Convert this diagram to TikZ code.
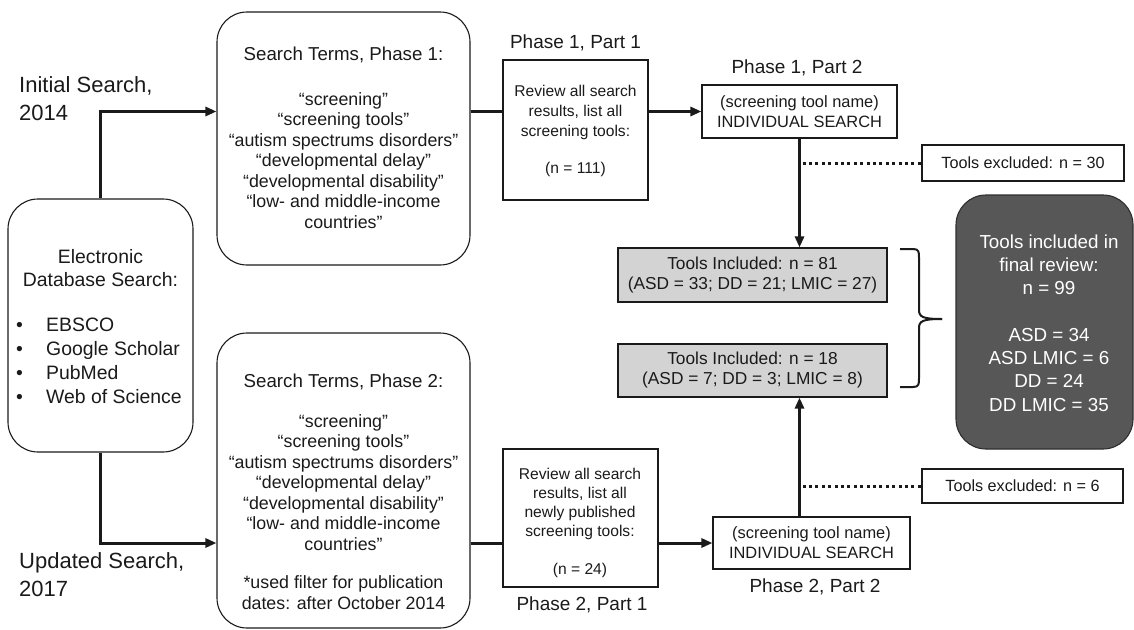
\documentclass[tikz,border=0pt]{standalone}
\usepackage{fontspec}
\setmainfont{Liberation Sans}
\usetikzlibrary{arrows.meta}
\newcommand{\fsz}[2]{\fontsize{#1}{#2}\selectfont}
\definecolor{incfill}{HTML}{D3D3D3}
\definecolor{darkfill}{HTML}{575757}
\definecolor{darkline}{HTML}{2E2E2E}
\definecolor{ink}{HTML}{1A1A1A}
\begin{document}
\begin{tikzpicture}[x=1pt,y=-1pt,
  every node/.style={text=ink},
  boxbase/.style={draw=ink, line width=1.1pt, inner sep=0pt},
  rbox/.style={boxbase, rounded corners=30pt},
  sbox/.style={boxbase},
  incbox/.style={boxbase, fill=incfill},
  darkbox/.style={draw=darkline, line width=1.1pt, fill=darkfill, rounded corners=30pt, inner sep=0pt},
  txt/.style={align=center, inner sep=0pt},
  conn/.style={draw=ink, line width=3pt, -{Triangle[length=11pt,width=9pt]}},
  plainconn/.style={draw=ink, line width=3pt},
  dotconn/.style={draw=ink, line width=3pt, dash pattern=on 3pt off 3.4pt},
  bracestyle/.style={draw=ink, line width=2pt}
]
\useasboundingbox (0,0) rectangle (1134,629);

% boxes
\node[rbox, minimum width=185pt, minimum height=253pt] (lb) at (100.5,325.5) {};
\node[rbox, minimum width=253pt, minimum height=253pt] (p1) at (343.5,138.5) {};
\node[rbox, minimum width=253pt, minimum height=295pt] (p2) at (343.5,480.5) {};
\node[sbox, minimum width=145pt, minimum height=140pt] (pp11) at (575.5,130) {};
\node[sbox, minimum width=195pt, minimum height=53pt] (pp12) at (799.5,111.5) {};
\node[sbox, minimum width=155pt, minimum height=138pt] (pp21) at (580.5,518) {};
\node[sbox, minimum width=197pt, minimum height=52pt] (pp22) at (811.5,543) {};
\node[incbox, minimum width=269pt, minimum height=54pt] (inc81) at (752.5,275) {};
\node[incbox, minimum width=269pt, minimum height=53pt] (inc18) at (752.5,370.5) {};
\node[sbox, minimum width=202pt, minimum height=36pt] (exc30) at (1023,163) {};
\node[sbox, minimum width=201pt, minimum height=34pt] (exc6) at (1022.5,486) {};
\node[darkbox, minimum width=177pt, minimum height=254pt] (dark) at (1044.5,322) {};

% side labels
\node[txt, align=left, anchor=west, font=\fsz{22}{28}] (lblinit) at (19,99) {Initial Search,\\2014};
\node[txt, align=left, anchor=west, font=\fsz{22}{28}] (lblupd) at (19,575) {Updated Search,\\2017};

% left box text
\node[txt, font=\fsz{19.4}{23}] (lbhead) at (100.5,268) {Electronic\\Database Search:};
\node[txt, align=left, anchor=west, font=\fsz{19.4}{24}] (lblist) at (16,361) {%
\makebox[30pt][l]{•}EBSCO\\
\makebox[30pt][l]{•}Google Scholar\\
\makebox[30pt][l]{•}PubMed\\
\makebox[30pt][l]{•}Web of Science};

% phase 1 terms
\node[txt, font=\fsz{17.8}{20.5}] (p1t) at (343.5,138) {{\fsz{18.7}{20.5}Search Terms, Phase 1:}\\[24pt]
“screening”\\
“screening tools”\\
“autism spectrums disorders”\\
“developmental delay”\\
“developmental disability”\\
“low- and middle-income\\
countries”};

% phase 2 terms
\node[txt, font=\fsz{17.8}{20.5}] (p2t) at (343.5,492) {{\fsz{18.7}{20.5}Search Terms, Phase 2:}\\[19pt]
“screening”\\
“screening tools”\\
“autism spectrums disorders”\\
“developmental delay”\\
“developmental disability”\\
“low- and middle-income\\
countries”\\[18pt]
*used filter for publication\\
dates: after October 2014};

% part labels
\node[txt, font=\fsz{19}{23}] (lp11) at (575.5,43) {Phase 1, Part 1};
\node[txt, font=\fsz{19}{23}] (lp12) at (797,68) {Phase 1, Part 2};
\node[txt, font=\fsz{19}{23}] (lp21) at (582,605) {Phase 2, Part 1};
\node[txt, font=\fsz{19}{23}] (lp22) at (815,587) {Phase 2, Part 2};

% part box texts
\node[txt, font=\fsz{15.6}{19.7}] (pp11t) at (575.5,131) {Review all search\\results, list all\\screening tools:\\[17pt](n = 111)};
\node[txt, font=\fsz{15.6}{19.2}] (pp21t) at (580,523) {Review all search\\results, list all\\newly published\\screening tools:\\[19pt](n = 24)};
\node[txt, font=\fsz{16.4}{20}] (pp12t) at (799.5,112) {(screening tool name)\\INDIVIDUAL SEARCH};
\node[txt, font=\fsz{16.4}{20}] (pp22t) at (811.5,543) {(screening tool name)\\INDIVIDUAL SEARCH};

% included / excluded texts
\node[txt, font=\fsz{17.3}{20}] (inc81t) at (752.5,275) {Tools Included: n = 81\\(ASD = 33; DD = 21; LMIC = 27)};
\node[txt, font=\fsz{17.3}{20}] (inc18t) at (752.5,370.5) {Tools Included: n = 18\\(ASD = 7; DD = 3; LMIC = 8)};
\node[txt, font=\fsz{16.2}{20}] (exc30t) at (1023,163) {Tools excluded: n = 30};
\node[txt, font=\fsz{16.2}{20}] (exc6t) at (1022.5,486) {Tools excluded: n = 6};

% final box text
\node[txt, text=white, font=\fsz{18.8}{23.3}] (darkt) at (1049,323) {Tools included in\\final review:\\n = 99\\[23pt]ASD = 34\\ASD LMIC = 6\\DD = 24\\DD LMIC = 35};

% connectors
\draw[conn] (lb.north) |- (p1.west |- pp12.west);
\draw[plainconn] (p1.east |- pp12.west) -- (pp11.west |- pp12.west);
\draw[conn] (pp11.east |- pp12.west) -- (pp12.west);
\draw[conn] (pp12.south) -- (pp12.south |- inc81.north);
\draw[dotconn] ([xshift=3pt]pp12.south |- exc30.west) -- (exc30.west);

\draw[conn] (lb.south) |- (p2.west |- pp22.west);
\draw[plainconn] (p2.east |- pp22.west) -- (pp21.west |- pp22.west);
\draw[conn] (pp21.east |- pp22.west) -- (pp22.west);
\draw[conn] (pp12.south |- pp22.north) -- (pp12.south |- inc18.south);
\draw[dotconn] ([xshift=3pt]pp12.south |- exc6.west) -- (exc6.west);

% brace
\coordinate (bt) at (900,249);
\coordinate (bb) at (900,387);
\coordinate (btip) at (942,319);
\draw[bracestyle] (bt) -- (913,249) .. controls (919,249) and (919,252) .. (919,258)
  -- (919,310) .. controls (919,317) and (923,319) .. (btip);
\draw[bracestyle] (bb) -- (913,387) .. controls (919,387) and (919,384) .. (919,378)
  -- (919,328) .. controls (919,321) and (923,319) .. (btip);
\end{tikzpicture}
\end{document}
